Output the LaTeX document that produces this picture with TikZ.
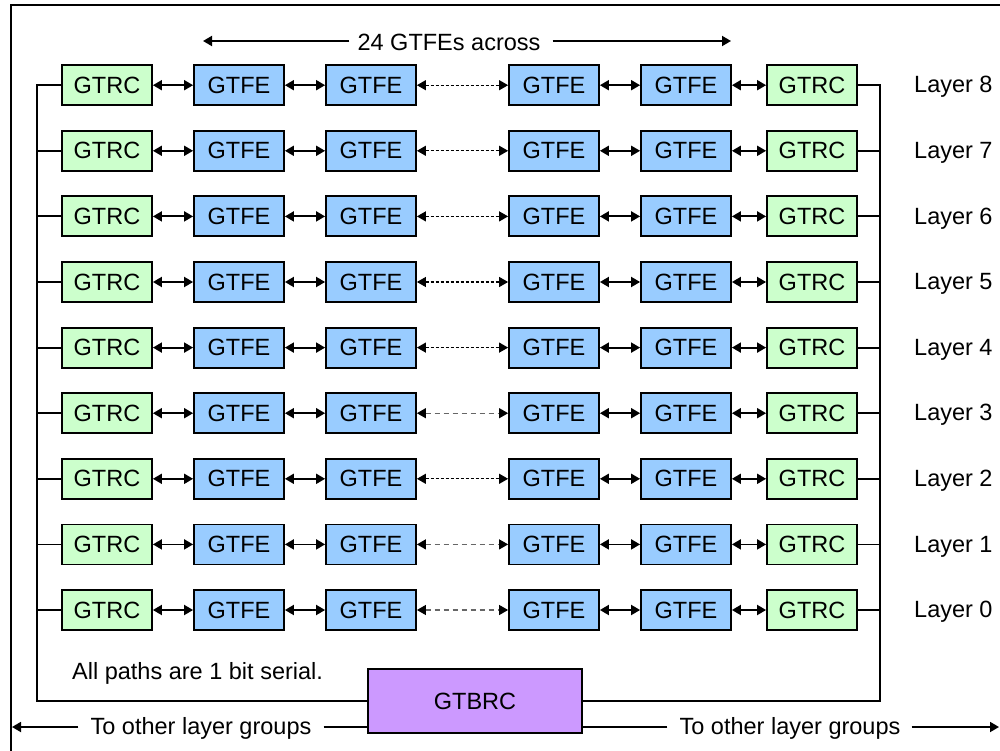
\documentclass[tikz,border=0pt]{standalone}
\usepackage{fontspec}
\setmainfont{Liberation Sans}
\usetikzlibrary{arrows.meta}
\definecolor{rcgreen}{HTML}{CCFFCC}
\definecolor{feblue}{HTML}{99CCFF}
\definecolor{brpurple}{HTML}{CC99FF}
\begin{document}
\begin{tikzpicture}[x=1pt,y=-1pt,
  font=\fontsize{23.5}{27}\selectfont,
  box/.style={draw=black,line width=1.8pt,minimum width=90pt,minimum height=40pt,inner sep=0pt,anchor=center},
  rcbox/.style={box,fill=rcgreen},
  febox/.style={box,fill=feblue},
  ln/.style={line width=1.8pt},
  tip/.style={-{Triangle[length=9pt,width=10pt]}},
  dtip/.style={{Triangle[length=9pt,width=10pt]}-{Triangle[length=9pt,width=10pt]}},
  ltip/.style={{Triangle[length=9pt,width=10pt,color=black,fill=black]}-{Triangle[length=9pt,width=10pt,color=black,fill=black]}},
  dashdark/.style={line width=1.2pt,dash pattern=on 3pt off 2pt},
  dashlight/.style={line width=1.2pt,draw=black!60,dash pattern=on 5pt off 4pt},
  lbl/.style={inner sep=0pt,anchor=west}]
\useasboundingbox (0,0) rectangle (1000,751);
% outer frame (partially visible)
\draw[ln] (11,751) -- (11,5) -- (1000,5);
% top label
\node[inner sep=0pt] (across) at (449,42) {24 GTFEs across};
\coordinate (acl) at (203,41);
\coordinate (acr) at (731,41);
\draw[ln,tip] ([xshift=-8pt]across.west |- acl) -- (acl);
\draw[ln,tip] ([xshift=12pt]across.east |- acr) -- (acr);
% rows
\foreach \r in {0,...,8}{
  \pgfmathsetmacro{\yy}{610-\r*65.6}
  \node[rcbox] (gl\r) at (107,\yy) {GTRC};
  \node[febox] (fa\r) at (239,\yy) {GTFE};
  \node[febox] (fb\r) at (371,\yy) {GTFE};
  \node[febox] (fc\r) at (554,\yy) {GTFE};
  \node[febox] (fd\r) at (686,\yy) {GTFE};
  \node[rcbox] (gr\r) at (812,\yy) {GTRC};
  \node[lbl] (lay\r) at (914,\yy+2) {Layer \r};
  \draw[ln,dtip] (gl\r.east) -- (fa\r.west);
  \draw[ln,dtip] (fa\r.east) -- (fb\r.west);
  \draw[ln,dtip] (fc\r.east) -- (fd\r.west);
  \draw[ln,dtip] (fd\r.east) -- (gr\r.west);
}
\foreach \r in {2,4,5,6,7,8}{
  \draw[dashdark,dtip] (fb\r.east) -- (fc\r.west);
}
\foreach \r in {0,1,3}{
  \draw[dashlight,ltip] (fb\r.east) -- (fc\r.west);
}
% GTBRC
\node[draw=black,line width=1.8pt,fill=brpurple,minimum width=214pt,minimum height=64pt,inner sep=0pt] (gtbrc) at (475,701) {GTBRC};
% buses
\coordinate (lbus) at (37,0);
\coordinate (rbus) at (880,0);
\draw[ln] (gl8.west) -- (gl8.west -| lbus) |- (gtbrc.west);
\draw[ln] (gr8.east) -- (gr8.east -| rbus) |- (gtbrc.east);
\foreach \r in {0,...,7}{
  \draw[ln] (gl\r.west) -- (gl\r.west -| lbus);
  \draw[ln] (gr\r.east) -- (gr\r.east -| rbus);
}
% note
\node[lbl] (note) at (72,673) {All paths are 1 bit serial.};
% to other layer groups
\coordinate (el) at (12,727);
\coordinate (er) at (999,727);
\node[inner sep=0pt] (tol) at (201,728) {To other layer groups};
\node[inner sep=0pt] (tor) at (790,728) {To other layer groups};
\draw[ln,tip] ([xshift=-12pt]tol.west |- el) -- (el);
\draw[ln] ([xshift=12pt]tol.east |- el) -- (el -| gtbrc.west);
\draw[ln] ([xshift=-12pt]tor.west |- er) -- (er -| gtbrc.east);
\draw[ln,tip] ([xshift=11pt]tor.east |- er) -- (er);
\end{tikzpicture}
\end{document}
